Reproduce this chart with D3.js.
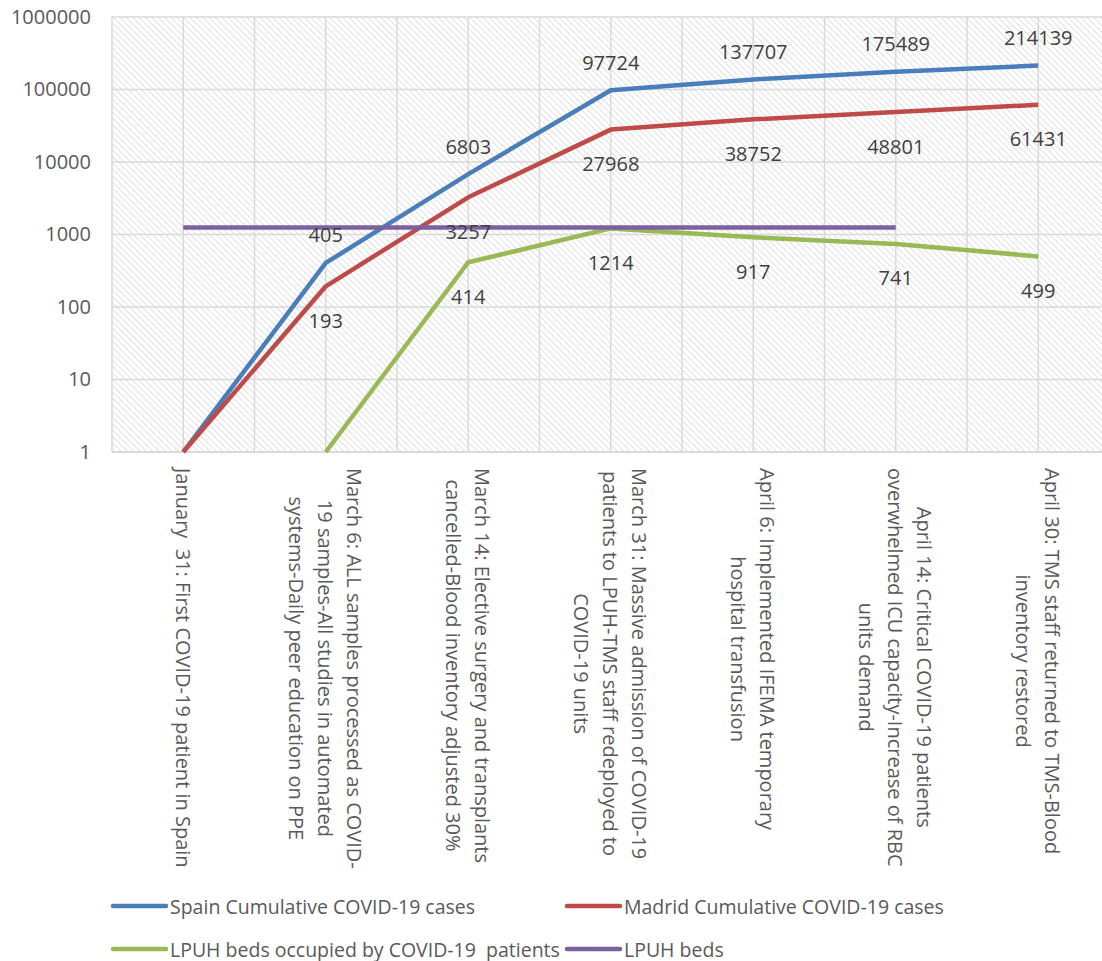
<!DOCTYPE html>
<html>
<head>
<meta charset="utf-8">
<script src="https://cdn.jsdelivr.net/npm/d3@7"></script>
<style>
  body { margin: 0; background: #fff; }
  svg { font-family: "Open Sans", sans-serif; }
  text { white-space: pre; }
</style>
</head>
<body>
<div id="container"></div>
<script>
/**
 * CONSTANTS AND GLOBALS
 * */
const width = 1102;
const height = 961;
const margin = { top: 17, left: 112, bottom: 452 };
const bandW = 142.5;

// categories (x axis labels, already wrapped the way the chart shows them)
const categories = [
  ["January  31: First COVID-19 patient in Spain"],
  ["March 6: ALL samples processed as COVID-", "19 samples-All studies in automated", "systems-Daily peer education on PPE"],
  ["March 14: Elective surgery and transplants", "cancelled-Blood inventory adjusted 30%"],
  ["March 31: Massive admission of COVID-19", "patients to LPUH-TMS staff redeployed to", "COVID-19 units"],
  ["April 6: Implemented IFEMA temporary", "hospital transfusion"],
  ["April 14: Critical COVID-19 patients", "overwhelmed ICU capacity-Increase of RBC", "units demand"],
  ["April 30: TMS staff returned to TMS-Blood", "inventory restored"]
];

const spainCases = [1, 405, 6803, 97724, 137707, 175489, 214139];
const madridCases = [1, 193, 3257, 27968, 38752, 48801, 61431];
const lpuhOccupied = [null, 1, 414, 1214, 917, 741, 499];
const lpuhBeds = [1250, 1250, 1250, 1250, 1250, 1250, null];

const yTicks = [1, 10, 100, 1000, 10000, 100000, 1000000];

const series = [
  { name: "Spain Cumulative COVID-19 cases", values: spainCases, color: "#4a7ebb", label: -28 },
  { name: "Madrid Cumulative COVID-19 cases", values: madridCases, color: "#be4b48", label: 34 },
  { name: "LPUH beds occupied by COVID-19  patients", values: lpuhOccupied, color: "#98b954", label: 34 },
  { name: "LPUH beds", values: lpuhBeds, color: "#7d60a0", label: null }
];

/**
 * INIT
 * */
let svg = d3.select("#container").append("svg")
  .attr("width", width)
  .attr("height", height);

const x = d3.scaleBand()
  .domain(d3.range(categories.length))
  .range([margin.left, margin.left + bandW * categories.length]);

const y = d3.scaleLog()
  .domain([1, 1000000])
  .range([margin.bottom, margin.top]);

const cx = i => x(i) + x.bandwidth() / 2;

// hatch fill of the plot area
const defs = svg.append("defs");
defs.append("pattern")
  .attr("id", "hatch")
  .attr("patternUnits", "userSpaceOnUse")
  .attr("width", 4.5)
  .attr("height", 4.5)
  .attr("patternTransform", "rotate(-45)")
  .append("line")
  .attr("x1", 0).attr("y1", 0).attr("x2", 0).attr("y2", 4.5)
  .attr("stroke", "#cccccc")
  .attr("stroke-width", 1.2);

const plotRight = x.range()[1];

svg.append("rect")
  .attr("x", margin.left)
  .attr("y", margin.top)
  .attr("width", plotRight - margin.left)
  .attr("height", margin.bottom - margin.top)
  .attr("fill", "url(#hatch)");

// horizontal gridlines
svg.append("g")
  .selectAll("line")
  .data(yTicks)
  .join("line")
  .attr("x1", margin.left)
  .attr("x2", plotRight)
  .attr("y1", d => y(d))
  .attr("y2", d => y(d))
  .attr("stroke", "#d9d9d9")
  .attr("stroke-width", 1.5);

// vertical gridlines, at every half category
const halfSteps = d3.range(categories.length * 2 + 1);
svg.append("g")
  .selectAll("line")
  .data(halfSteps)
  .join("line")
  .attr("x1", d => margin.left + d * bandW / 2)
  .attr("x2", d => margin.left + d * bandW / 2)
  .attr("y1", margin.top)
  .attr("y2", margin.bottom)
  .attr("stroke", "#d9d9d9")
  .attr("stroke-width", 1.5);

// y axis
const yAxis = svg.append("g")
  .attr("transform", `translate(${margin.left},0)`)
  .call(d3.axisLeft(y).tickValues(yTicks).tickFormat(d3.format("d")).tickSize(0).tickPadding(21));
yAxis.select(".domain").remove();
yAxis.selectAll("text")
  .attr("fill", "#595959")
  .attr("font-size", 20)
  .attr("font-family", "Open Sans, sans-serif");

// x axis baseline
svg.append("line")
  .attr("x1", margin.left).attr("x2", plotRight)
  .attr("y1", margin.bottom).attr("y2", margin.bottom)
  .attr("stroke", "#d9d9d9").attr("stroke-width", 2);

// x labels, rotated, lines centred on each other
const labelTop = 468;
const lh = 29;
categories.forEach((lines, i) => {
  const g = svg.append("g");
  const texts = lines.map((t, j) => g.append("text")
    .attr("font-size", 20)
    .attr("fill", "#595959")
    .attr("text-anchor", "middle")
    .attr("dominant-baseline", "central")
    .text(t));
  const maxLen = d3.max(texts, t => t.node().getComputedTextLength());
  texts.forEach((t, j) => {
    t.attr("x", maxLen / 2).attr("y", (j - (lines.length - 1) / 2) * lh);
  });
  g.attr("transform", `translate(${cx(i)},${labelTop}) rotate(90)`);
});

/**
 * DRAW
 * */
const line = d3.line()
  .defined(d => d != null)
  .x((d, i) => cx(i))
  .y(d => y(d));

series.forEach(s => {
  svg.append("path")
    .datum(s.values)
    .attr("d", line)
    .attr("fill", "none")
    .attr("stroke", s.color)
    .attr("stroke-width", 4.5)
    .attr("stroke-linejoin", "round");
});

// data labels
series.filter(s => s.label != null).forEach(s => {
  svg.append("g")
    .selectAll("text")
    .data(s.values.map((v, i) => ({ v, i })).filter(d => d.v != null && d.v > 1))
    .join("text")
    .attr("x", d => cx(d.i))
    .attr("y", d => y(d.v) + s.label)
    .attr("text-anchor", "middle")
    .attr("dominant-baseline", "central")
    .attr("font-size", 20)
    .attr("fill", "#404040")
    .text(d => d.v);
});

// legend
const legendPos = [[113, 906], [567, 906], [113, 949], [567, 949]];
series.forEach((s, i) => {
  const [lx, ly] = legendPos[i];
  svg.append("line")
    .attr("x1", lx).attr("x2", lx + 53)
    .attr("y1", ly).attr("y2", ly)
    .attr("stroke", s.color)
    .attr("stroke-width", 4.5)
    .attr("stroke-linecap", "round");
  svg.append("text")
    .attr("x", lx + 57)
    .attr("y", ly)
    .attr("dominant-baseline", "central")
    .attr("font-size", 19.5)
    .attr("fill", "#595959")
    .text(s.name);
});
</script>
</body>
</html>
